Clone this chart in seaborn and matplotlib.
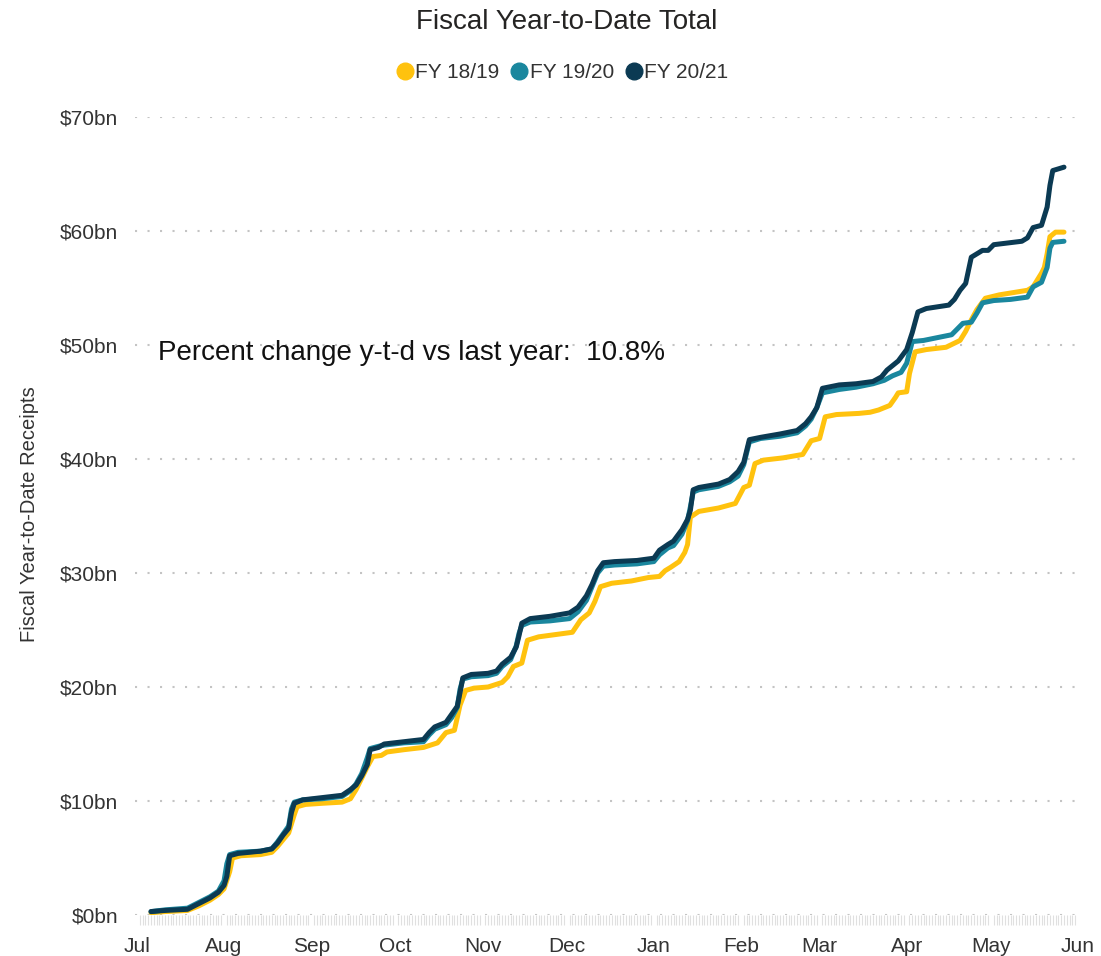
import pandas as pd
import numpy as np
import matplotlib.pyplot as plt
import matplotlib.dates as mdates
from matplotlib.lines import Line2D
import seaborn as sns

# days since 1 Jul, cumulative receipts in $bn
fy1819_days = [5, 10, 18, 22, 26, 29, 31, 33, 34, 37, 44, 48, 50, 52, 54, 56, 57, 60, 66, 73,
               76, 78, 80, 82, 84, 87, 89, 95, 102, 107, 110, 113, 115, 117, 120, 125, 130, 132, 134, 137,
               139, 143, 149, 155, 158, 161, 163, 165, 169, 176, 182, 186, 188, 190, 193, 195, 196, 197, 200, 207,
               213, 216, 218, 220, 223, 230, 237, 240, 243, 245, 249, 257, 261, 264, 268, 270, 271, 274, 275, 277,
               281, 288, 293, 295, 297, 299, 302, 307, 312, 317, 319, 322, 323, 324, 325, 327, 330]
fy1819_vals = [0.2, 0.3, 0.4, 0.8, 1.3, 1.8, 2.3, 3.8, 5.0, 5.2, 5.3, 5.5, 6.0, 6.6, 7.2, 8.8, 9.5, 9.7, 9.8, 9.9,
               10.2, 11.0, 12.0, 13.0, 13.9, 14.0, 14.3, 14.5, 14.7, 15.1, 16.0, 16.2, 18.4, 19.7, 19.9, 20.0, 20.4, 20.9, 21.8, 22.1,
               24.1, 24.4, 24.6, 24.8, 25.9, 26.5, 27.5, 28.8, 29.1, 29.3, 29.6, 29.7, 30.2, 30.5, 31.0, 31.8, 32.5, 34.9, 35.4, 35.7,
               36.1, 37.5, 37.7, 39.6, 39.9, 40.1, 40.4, 41.6, 41.8, 43.7, 43.9, 44.0, 44.1, 44.3, 44.7, 45.4, 45.8, 45.9, 47.5, 49.4,
               49.6, 49.8, 50.4, 51.2, 52.2, 53.1, 54.1, 54.4, 54.6, 54.8, 55.1, 56.3, 56.8, 58.0, 59.5, 59.9, 59.9]

fy1920_days = [5, 10, 18, 22, 26, 29, 31, 32, 33, 36, 44, 48, 50, 52, 54, 55, 56, 59, 66, 73,
               76, 78, 80, 82, 83, 86, 88, 95, 102, 104, 106, 110, 112, 114, 115, 116, 119, 125, 128, 130,
               133, 135, 136, 137, 140, 147, 154, 157, 160, 162, 164, 166, 170, 178, 184, 186, 189, 191, 194, 196,
               197, 198, 200, 207, 211, 214, 216, 218, 222, 229, 235, 238, 240, 242, 244, 250, 256, 262, 266, 269,
               272, 274, 276, 280, 286, 290, 292, 294, 297, 299, 301, 305, 311, 317, 319, 322, 324, 325, 326, 330]
fy1920_vals = [0.3, 0.45, 0.6, 1.1, 1.6, 2.1, 3.0, 4.5, 5.3, 5.5, 5.6, 5.8, 6.4, 7.1, 7.8, 9.3, 9.9, 10.1, 10.2, 10.4,
               10.9, 11.5, 12.4, 13.8, 14.6, 14.8, 14.9, 15.1, 15.2, 15.8, 16.3, 16.7, 17.3, 18.2, 19.8, 20.7, 20.9, 21.0, 21.2, 21.8,
               22.4, 23.6, 24.7, 25.4, 25.7, 25.8, 26.0, 26.6, 27.6, 28.8, 30.0, 30.6, 30.7, 30.8, 31.0, 31.6, 32.2, 32.4, 33.4, 34.6,
               35.8, 37.1, 37.3, 37.6, 38.0, 38.5, 39.5, 41.5, 41.8, 42.0, 42.3, 42.9, 43.5, 44.5, 45.8, 46.1, 46.3, 46.6, 46.9, 47.3,
               47.6, 48.4, 50.3, 50.4, 50.7, 50.9, 51.4, 51.9, 52.0, 52.8, 53.7, 53.9, 54.0, 54.2, 55.1, 55.5, 56.8, 58.5, 59.0, 59.1]

fy2021_days = [5, 10, 18, 22, 26, 29, 31, 32, 33, 36, 44, 48, 50, 52, 54, 55, 56, 59, 66, 73,
               76, 78, 80, 82, 83, 86, 88, 95, 102, 104, 106, 110, 112, 114, 115, 116, 119, 125, 128, 130,
               133, 135, 136, 137, 140, 147, 154, 157, 160, 162, 164, 166, 170, 178, 184, 186, 189, 191, 194, 196,
               197, 198, 200, 207, 211, 214, 216, 218, 222, 229, 235, 238, 240, 242, 244, 250, 256, 262, 265, 267,
               269, 271, 274, 276, 278, 281, 289, 291, 293, 295, 297, 301, 303, 305, 315, 317, 319, 322, 324, 325,
               326, 330]
fy2021_vals = [0.3, 0.4, 0.5, 1.0, 1.5, 2.0, 2.6, 3.4, 5.2, 5.4, 5.6, 5.8, 6.3, 7.0, 7.6, 9.0, 9.8, 10.1, 10.3, 10.5,
               11.0, 11.4, 12.2, 13.2, 14.5, 14.7, 15.0, 15.2, 15.4, 16.0, 16.5, 16.9, 17.6, 18.3, 19.5, 20.8, 21.1, 21.2, 21.4, 22.0,
               22.6, 23.5, 24.5, 25.6, 26.0, 26.2, 26.5, 27.0, 28.0, 29.0, 30.2, 30.9, 31.0, 31.1, 31.3, 32.0, 32.5, 32.8, 33.8, 34.7,
               35.5, 37.3, 37.5, 37.8, 38.2, 38.9, 39.7, 41.7, 41.9, 42.2, 42.5, 43.1, 43.7, 44.5, 46.2, 46.5, 46.6, 46.8, 47.2, 47.8,
               48.2, 48.6, 49.6, 51.1, 52.9, 53.2, 53.5, 54.0, 54.8, 55.4, 57.7, 58.3, 58.3, 58.8, 59.1, 59.4, 60.3, 60.5, 62.1, 64.0,
               65.3, 65.6]

series_names = ['FY 18/19', 'FY 19/20', 'FY 20/21']
colors = ['#FFC20E', '#1A879E', '#0B3A53']
y_ticks = [0, 10, 20, 30, 40, 50, 60, 70]
note = 'Percent change y-t-d vs last year:  10.8%'

base = pd.Timestamp('2020-07-01')
frames = []
for name, d, v in zip(series_names,
                      [fy1819_days, fy1920_days, fy2021_days],
                      [fy1819_vals, fy1920_vals, fy2021_vals]):
    frames.append(pd.DataFrame({'date': base + pd.to_timedelta(d, unit='D'),
                                'value': v, 'year': name}))
df = pd.concat(frames, ignore_index=True)

sns.set_style('white')
plt.rcParams['font.family'] = ['Liberation Sans', 'DejaVu Sans']

fig = plt.figure(figsize=(11.01, 9.56), dpi=100)
ax = fig.add_axes([135 / 1101, 1 - 915 / 956, 945 / 1101, 798 / 956])

sns.lineplot(data=df, x='date', y='value', hue='year', palette=colors,
             hue_order=series_names, linewidth=3.6, estimator=None, sort=False,
             legend=False, ax=ax)

ax.set_ylim(0, 70)
ax.set_xlim(base - pd.Timedelta(days=0.7), pd.Timestamp('2021-06-01') + pd.Timedelta(days=0.7))
ax.set_yticks(y_ticks)
ax.set_yticklabels(['$' + str(t) + 'bn' for t in y_ticks])
ax.xaxis.set_major_locator(mdates.MonthLocator())
ax.xaxis.set_major_formatter(mdates.DateFormatter('%b'))
ax.xaxis.set_minor_locator(mdates.DayLocator())
ax.tick_params(axis='both', which='major', length=0, labelsize=15, labelcolor='#333333')
ax.tick_params(axis='y', pad=12)
ax.tick_params(axis='x', which='major', pad=16)
ax.tick_params(axis='x', which='minor', bottom=True, length=7, width=0.8, color='#e0e0e0')
ax.set_xlabel('')
ax.set_ylabel('')
ax.yaxis.grid(True, linestyle=(0, (1, 5)), linewidth=1.5, color='#c4c4c4')
ax.xaxis.grid(False)
for s in ax.spines.values():
    s.set_visible(False)

fig.text(567 / 1101, 1 - 22 / 956, 'Fiscal Year-to-Date Total', ha='center', va='center',
         fontsize=20, color='#252423')
fig.text(30 / 1101, 1 - 514 / 956, 'Fiscal Year-to-Date Receipts', rotation=90,
         ha='center', va='center', fontsize=14.5, color='#333333')
fig.text(158 / 1101, 1 - 353 / 956, note, ha='left', va='center', fontsize=20, color='#111111')

handles = [Line2D([], [], marker='o', linestyle='', markersize=12, color=c) for c in colors]
fig.legend(handles, series_names, loc='center', bbox_to_anchor=(562 / 1101, 1 - 73 / 956),
           ncol=3, frameon=False, fontsize=15, handletextpad=0.05, columnspacing=0.5,
           handlelength=0.9, labelcolor='#333333')

plt.savefig('out.png', dpi=100)
